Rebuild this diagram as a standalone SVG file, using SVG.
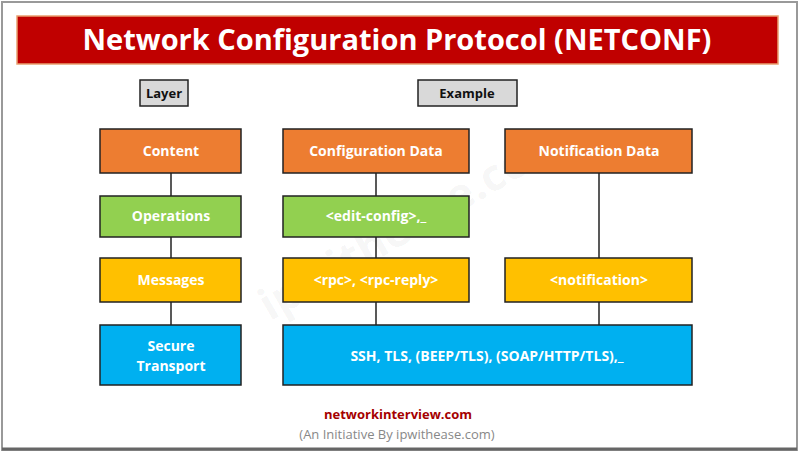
<svg xmlns="http://www.w3.org/2000/svg" width="800" height="455" viewBox="0 0 800 455">
<style>
.b{stroke:#222;stroke-width:1.5}
.t{font-family:"Open Sans","Liberation Sans",sans-serif;font-weight:bold;font-size:14px;fill:#fff;text-anchor:middle}
.o{fill:#ED7D31}.g{fill:#92D050}.y{fill:#FFC000}.c{fill:#00B0F0}
.k{font-family:"Open Sans","Liberation Sans",sans-serif;font-weight:bold;font-size:13px;fill:#111;text-anchor:middle}
</style>
<rect width="800" height="455" fill="#fff"/>
<rect x="2" y="2" width="795" height="448" fill="none" stroke="#999" stroke-width="2"/>
<line x1="2" y1="449" x2="797" y2="449" stroke="#666" stroke-width="3"/>
<rect x="17" y="16" width="761" height="48" fill="#C00000" stroke="#e9a070" stroke-width="1.5"/>
<text x="397" y="50" font-family="Open Sans,Liberation Sans,sans-serif" font-weight="bold" font-size="29" fill="#fff" text-anchor="middle">Network Configuration Protocol (NETCONF)</text>
<text x="420" y="235" font-family="Open Sans,sans-serif" font-weight="bold" font-size="44" fill="#000" fill-opacity="0.05" text-anchor="middle" transform="rotate(-30 420 235)">ipwithease.com</text>
<g id="connectors" stroke="#222" stroke-width="1.5">
<line x1="171" y1="173" x2="171" y2="325"/>
<line x1="376" y1="173" x2="376" y2="325"/>
<line x1="599" y1="173" x2="599" y2="325"/>
</g>
<g id="layer"><rect x="140" y="80" width="48" height="26" fill="#D9D9D9" class="b"/><text x="164" y="98" class="k">Layer</text></g>
<g id="example"><rect x="418" y="80" width="99" height="26" fill="#D9D9D9" class="b"/><text x="467" y="98" class="k">Example</text></g>
<g id="content"><rect x="100" y="129" width="141" height="44" class="o b"/><text x="171" y="156" class="t">Content</text></g>
<g id="configdata"><rect x="283" y="129" width="186" height="44" class="o b"/><text x="376" y="156" class="t">Configuration Data</text></g>
<g id="notifdata"><rect x="505" y="129" width="187" height="44" class="o b"/><text x="599" y="156" class="t">Notification Data</text></g>
<g id="operations"><rect x="100" y="196" width="141" height="41" class="g b"/><text x="171" y="221" class="t">Operations</text></g>
<g id="editconfig"><rect x="283" y="196" width="186" height="41" class="g b"/><text x="376" y="221" class="t">&lt;edit-config&gt;,_</text></g>
<g id="messages"><rect x="100" y="258" width="141" height="44" class="y b"/><text x="171" y="285" class="t">Messages</text></g>
<g id="rpc"><rect x="283" y="258" width="186" height="44" class="y b"/><text x="376" y="285" class="t">&lt;rpc&gt;, &lt;rpc-reply&gt;</text></g>
<g id="notification"><rect x="505" y="258" width="187" height="44" class="y b"/><text x="599" y="285" class="t">&lt;notification&gt;</text></g>
<g id="secure"><rect x="100" y="325" width="141" height="60" class="c b"/><text x="171" y="351" class="t">Secure</text><text x="171" y="371" class="t">Transport</text></g>
<g id="ssh"><rect x="283" y="325" width="409" height="60" class="c b"/><text x="487" y="361" class="t">SSH, TLS, (BEEP/TLS), (SOAP/HTTP/TLS),_</text></g>
<text x="398" y="419" font-family="Open Sans,Liberation Sans,sans-serif" font-weight="bold" font-size="13" fill="#A50000" text-anchor="middle">networkinterview.com</text>
<text x="397" y="439" font-family="Open Sans,Liberation Sans,sans-serif" font-size="13" fill="#888" text-anchor="middle">(An Initiative By ipwithease.com)</text>
</svg>
